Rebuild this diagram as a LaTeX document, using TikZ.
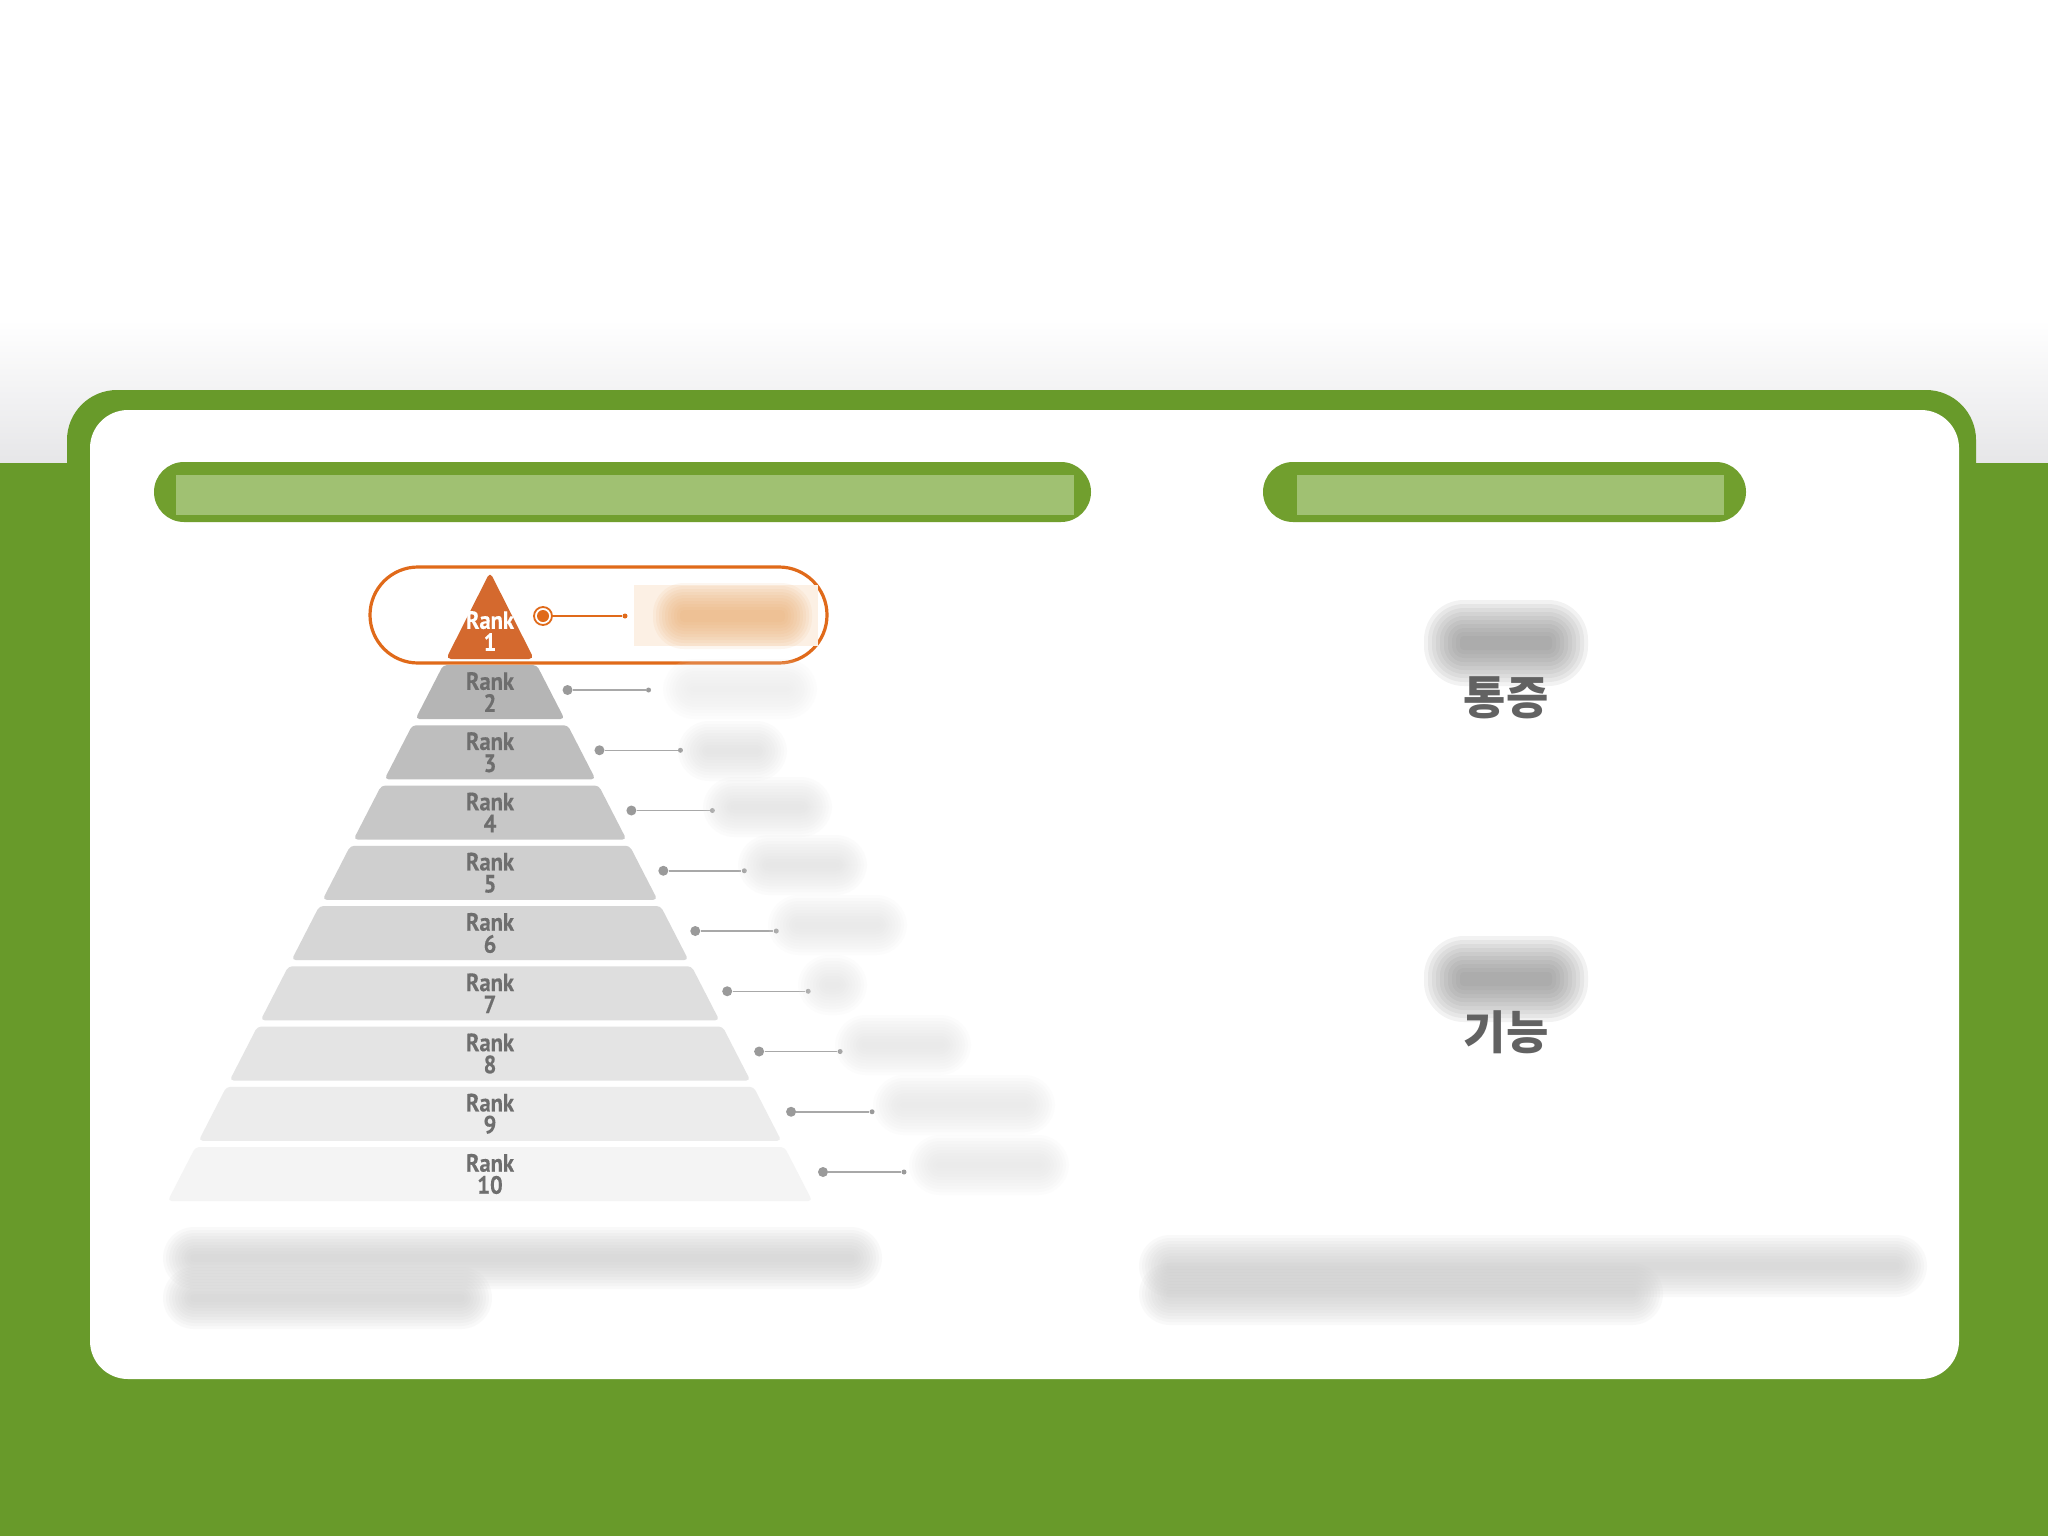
\documentclass[tikz,border=0pt]{standalone}
\usepackage{fontspec}
\newfontfamily\rankfont[FakeStretch=0.9,BoldFeatures={FakeBold=0.35}]{PT Sans}
\newfontfamily\kofont{Noto Sans CJK KR}
\definecolor{bggreen}{HTML}{689A2A}
\definecolor{hgreen}{HTML}{719F2E}
\definecolor{hlight}{HTML}{A0C172}
\definecolor{topgrey}{HTML}{E6E6E8}
\definecolor{rankorange}{HTML}{D4692E}
\definecolor{ringorange}{HTML}{E06A1A}
\definecolor{rankgrey}{HTML}{6E6E6E}
\definecolor{dotgrey}{HTML}{9A9A9A}
\definecolor{linegrey}{HTML}{A8A8A8}
\definecolor{kogrey}{HTML}{626262}
\definecolor{peach}{HTML}{FCF0E4}
\definecolor{peachcore}{HTML}{EBAE72}
\newcommand\fuzz[6]{%
  \foreach \ss in {0,...,9}{%
    \pgfmathsetmacro\rr{(\ss*#6+4)*0.5}%
    \fill[#5,opacity=0.1,rounded corners=\rr pt] (#1-\ss*#6,#2-\ss*#6) rectangle (#3+\ss*#6,#4+\ss*#6);}}
\tikzset{
  ranktext/.style={font=\rankfont\bfseries\fontsize{12.5}{11}\selectfont, text=rankgrey, align=center, inner sep=0pt},
  bigdot/.style={circle, fill=dotgrey, minimum size=5pt, inner sep=0pt},
  smalldot/.style={circle, fill=dotgrey, minimum size=2.5pt, inner sep=0pt},
  conn/.style={draw=linegrey, line width=0.75pt},
  kotext/.style={font=\kofont\bfseries\fontsize{23}{26}\selectfont, text=kogrey, inner sep=0pt},
}
\begin{document}
\begin{tikzpicture}[x=0.5pt,y=-0.5pt]
\useasboundingbox (0,0) rectangle (2048,1536);
% background
\fill[white] (0,0) rectangle (2048,330);
\shade[top color=white, bottom color=topgrey] (0,320) rectangle (2048,464);
\fill[bggreen] (0,463) rectangle (2048,1536);
% panel
\fill[bggreen, rounded corners=25pt] (67,390) rectangle (1976,1420);
\fill[white, rounded corners=19pt] (90,410) rectangle (1959,1379);
% header bars
\fill[hgreen, rounded corners=15pt] (154,462) rectangle (1091,522);
\fill[hlight] (176,475) rectangle (1074,515);
\fill[hgreen, rounded corners=15pt] (1263,462) rectangle (1746,522);
\fill[hlight] (1297,475) rectangle (1724,515);
% rank 1
\draw[ringorange, line width=1.6pt, rounded corners=24pt] (370,567) rectangle (827,663);
\fill[rankorange, rounded corners=2.5pt] (490,572) -- (534,659) -- (446,659) -- cycle;
\node[ranktext, text=white] (r1) at (490,631) {Rank\\1};
\node[circle, draw=ringorange, line width=0.9pt, fill=white, minimum size=9pt, inner sep=0pt] (m1) at (543,616) {};
\fill[ringorange] (m1.center) circle (3pt);
\node[smalldot, fill=ringorange] (e1) at (625,616) {};
\draw[ringorange, line width=0.75pt] (m1) -- (e1);
\fill[peach] (634,585) rectangle (818,646);
\fuzz{680}{610}{785}{622}{peachcore}{3}
% tiers 2..10
\foreach \k/\p in {2/29,3/25.5,4/22,5/19,6/16,7/13,8/10.5,9/7.5,10/4.5}{
  \pgfmathsetmacro\yt{665+(\k-2)*60.25}
  \pgfmathsetmacro\yb{\yt+54}
  \pgfmathsetmacro\xtl{490-0.514*(\yt-574)}
  \pgfmathsetmacro\xtr{490+0.514*(\yt-574)}
  \pgfmathsetmacro\xbl{490-0.514*(\yb-574)}
  \pgfmathsetmacro\xbr{490+0.514*(\yb-574)}
  \pgfmathsetmacro\ym{\yt+27}
  \pgfmathsetmacro\yd{\yt+25}
  \pgfmathsetmacro\xd{567+0.53*(\yd-689)}
  \pgfmathsetmacro\xe{\xd+81}
  \fill[black!\p, rounded corners=2pt] (\xtl,\yt) -- (\xtr,\yt) -- (\xbr,\yb) -- (\xbl,\yb) -- cycle;
  \node[ranktext] (r\k) at (490,\ym) {Rank\\\k};
  \node[bigdot] (d\k) at (\xd,\yd) {};
  \node[smalldot] (e\k) at (\xe,\yd) {};
  \draw[conn] (d\k) -- (e\k);
}
% faint label blobs
\fuzz{690}{686}{790}{692}{black!8}{3}
\fuzz{705}{748}{760}{754}{black!13}{3}
\fuzz{730}{804}{805}{810}{black!12}{3}
\fuzz{765}{862}{840}{868}{black!12}{3}
\fuzz{795}{922}{880}{928}{black!11}{3}
\fuzz{825}{982}{840}{988}{black!11}{3}
\fuzz{862}{1042}{944}{1048}{black!11}{3}
\fuzz{900}{1102}{1028}{1108}{black!10}{3}
\fuzz{936}{1162}{1042}{1168}{black!10}{3}
% right side
\fuzz{1460}{636}{1552}{650}{black!48}{4}
\node[kotext] (k1) at (1506,698) {통증};
\fuzz{1460}{972}{1552}{986}{black!48}{4}
\node[kotext] (k2) at (1506,1032) {기능};
% bottom paragraphs
\fuzz{190}{1254}{855}{1262}{black!20}{3}
\fuzz{190}{1294}{465}{1302}{black!20}{3}
\fuzz{1166}{1262}{1900}{1270}{black!20}{3}
\fuzz{1166}{1290}{1636}{1298}{black!20}{3}
\end{tikzpicture}
\end{document}
